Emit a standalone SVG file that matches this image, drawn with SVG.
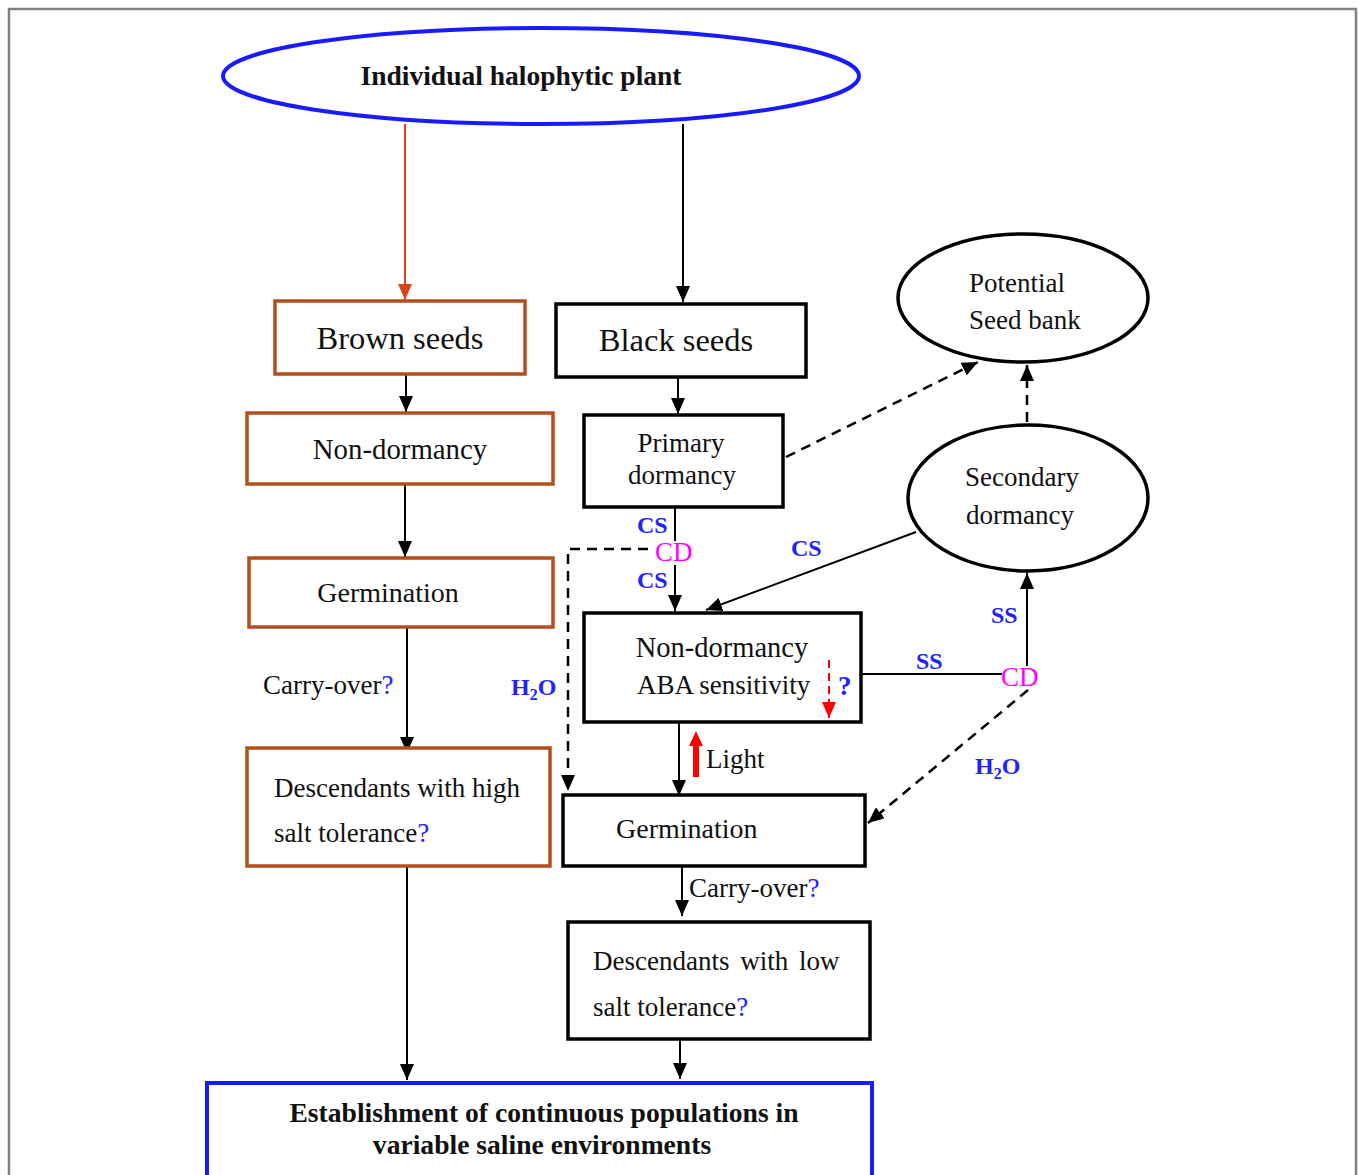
<svg xmlns="http://www.w3.org/2000/svg" width="1358" height="1175" viewBox="0 0 1358 1175">
<defs>
<style>
.t{font-family:"Liberation Serif","Times New Roman",serif;font-size:27px;fill:#111}
.b{font-weight:bold}
.c{text-anchor:middle}
.lbl{font-family:"Liberation Serif","Times New Roman",serif;font-size:24px;font-weight:bold;fill:#2222ff}
.cd{font-family:"Liberation Serif","Times New Roman",serif;font-size:27px;fill:#ff00ff}
.q{fill:#2222ff}
.brown{fill:#fff;stroke:#b24f1d;stroke-width:3.5}
.blk{fill:#fff;stroke:#000;stroke-width:3.5}
.ell{fill:#fff;stroke:#000;stroke-width:3.5}
.ln{fill:none;stroke:#000;stroke-width:2}
.dash{fill:none;stroke:#000;stroke-width:2.5;stroke-dasharray:10 7}
</style>
<marker id="ah" markerUnits="userSpaceOnUse" markerWidth="16" markerHeight="14" refX="16" refY="7" orient="auto"><path d="M0,0 L16,7 L0,14 z" fill="#000"/></marker>
<marker id="ahr" markerUnits="userSpaceOnUse" markerWidth="16" markerHeight="14" refX="16" refY="7" orient="auto"><path d="M0,0 L16,7 L0,14 z" fill="#d8431a"/></marker>
<marker id="ahred" markerUnits="userSpaceOnUse" markerWidth="16" markerHeight="14" refX="16" refY="7" orient="auto"><path d="M0,0 L16,7 L0,14 z" fill="#ff0000"/></marker>
</defs>
<rect x="9" y="9" width="1347" height="1190" fill="#fff" stroke="#808080" stroke-width="2.5"/>

<g id="connectors">
<line x1="405" y1="124" x2="405" y2="300" stroke="#d8431a" stroke-width="2" marker-end="url(#ahr)"/>
<line class="ln" x1="683" y1="124" x2="683" y2="302" marker-end="url(#ah)"/>
<line class="ln" x1="406" y1="375" x2="406" y2="412" marker-end="url(#ah)"/>
<line class="ln" x1="678" y1="378" x2="678" y2="414" marker-end="url(#ah)"/>
<line class="ln" x1="405" y1="485" x2="405" y2="557" marker-end="url(#ah)"/>
<line class="ln" x1="407" y1="628" x2="407" y2="753" marker-end="url(#ah)"/>
<line class="ln" x1="407" y1="867" x2="407" y2="1080" marker-end="url(#ah)"/>
<line class="dash" x1="786" y1="457" x2="978" y2="362" marker-end="url(#ah)"/>
<line class="dash" x1="1027" y1="422" x2="1027" y2="365" marker-end="url(#ah)"/>
<line class="ln" x1="675" y1="508" x2="675" y2="541"/>
<line class="ln" x1="675" y1="565" x2="675" y2="611" marker-end="url(#ah)"/>
<polyline class="dash" points="648,549 568,549 568,791" marker-end="url(#ah)"/>
<line class="ln" x1="916" y1="532" x2="706" y2="610" marker-end="url(#ah)"/>
<line class="ln" x1="862" y1="674" x2="1002" y2="674"/>
<line class="ln" x1="1027" y1="666" x2="1027" y2="573" marker-end="url(#ah)"/>
<line class="dash" x1="1028" y1="690" x2="868" y2="823" marker-end="url(#ah)"/>
<line class="ln" x1="679" y1="723" x2="679" y2="796" marker-end="url(#ah)"/>
<line class="ln" x1="682" y1="867" x2="682" y2="916" marker-end="url(#ah)"/>
<line class="ln" x1="680" y1="1040" x2="680" y2="1079" marker-end="url(#ah)"/>
<path d="M693,777 L693,746 L689,746 L696,731 L703,746 L699,746 L699,777 z" fill="#ff0000"/>
</g>

<g id="labels">
<text class="lbl" x="637" y="533">CS</text>
<text class="cd" x="655" y="561">CD</text>
<text class="lbl" x="637" y="588">CS</text>
<text class="lbl" x="791" y="556">CS</text>
<text class="lbl" x="916" y="669">SS</text>
<text class="cd" x="1001" y="686">CD</text>
<text class="lbl" x="991" y="623">SS</text>
<text class="lbl" x="511" y="695">H<tspan style="font-size:16px" dy="5">2</tspan><tspan dy="-5">O</tspan></text>
<text class="lbl" x="975" y="774">H<tspan style="font-size:16px" dy="5">2</tspan><tspan dy="-5">O</tspan></text>
<text class="t" x="706" y="768">Light</text>
<text class="t" x="263" y="694">Carry-over<tspan class="q">?</tspan></text>
<text class="t" x="689" y="897">Carry-over<tspan class="q">?</tspan></text>
</g>

<g id="n-plant">
<ellipse cx="541" cy="76" rx="318" ry="48" fill="#fff" stroke="#1a1aff" stroke-width="4"/>
<text class="t b c" x="521" y="85" style="font-size:27.5px">Individual halophytic plant</text>
</g>
<g id="n-brown">
<rect class="brown" x="275" y="301" width="250" height="73"/>
<text class="t c" x="400" y="349" style="font-size:32.5px">Brown seeds</text>
</g>
<g id="n-black">
<rect class="blk" x="556" y="304" width="250" height="73"/>
<text class="t c" x="676" y="351" style="font-size:32.5px">Black seeds</text>
</g>
<g id="n-nondorm-brown">
<rect class="brown" x="247" y="413" width="306" height="71"/>
<text class="t c" x="400" y="459" style="font-size:28.8px">Non-dormancy</text>
</g>
<g id="n-primary">
<rect class="blk" x="584" y="415" width="199" height="92"/>
<text class="t c" x="681" y="452">Primary</text>
<text class="t c" x="682" y="484">dormancy</text>
</g>
<g id="n-seedbank">
<ellipse class="ell" cx="1023" cy="298" rx="125" ry="64"/>
<text class="t" x="969" y="292">Potential</text>
<text class="t" x="969" y="329">Seed bank</text>
</g>
<g id="n-secondary">
<ellipse class="ell" cx="1028" cy="498" rx="120" ry="73"/>
<text class="t c" x="1022" y="486">Secondary</text>
<text class="t c" x="1020" y="524">dormancy</text>
</g>
<g id="n-germ-brown">
<rect class="brown" x="249" y="558" width="304" height="69"/>
<text class="t c" x="388" y="602" style="font-size:28px">Germination</text>
</g>
<g id="n-aba">
<rect class="blk" x="584" y="613" width="277" height="109"/>
<text class="t c" x="722" y="657" style="font-size:28.5px">Non-dormancy</text>
<text class="t" x="637" y="694">ABA sensitivity</text>
<line x1="829" y1="660" x2="829" y2="718" stroke="#ff0000" stroke-width="2" stroke-dasharray="8 5" marker-end="url(#ahred)"/>
<text class="lbl" x="838" y="695" style="font-size:27px">?</text>
</g>
<g id="n-high">
<rect class="brown" x="247" y="748" width="303" height="118"/>
<text class="t" x="274" y="797">Descendants with high</text>
<text class="t" x="274" y="842">salt tolerance<tspan class="q">?</tspan></text>
</g>
<g id="n-germ-black">
<rect class="blk" x="563" y="795" width="302" height="71"/>
<text class="t" x="616" y="838" style="font-size:28px">Germination</text>
</g>
<g id="n-low">
<rect class="blk" x="568" y="922" width="302" height="117"/>
<text class="t" x="593" y="970" word-spacing="4">Descendants with low</text>
<text class="t" x="593" y="1016">salt tolerance<tspan class="q">?</tspan></text>
</g>
<g id="n-establish">
<rect x="207" y="1083" width="665" height="110" fill="#fff" stroke="#1a1aff" stroke-width="4"/>
<text class="t b c" x="544" y="1122" style="font-size:27.6px">Establishment of continuous populations in</text>
<text class="t b c" x="542" y="1154" style="font-size:27.6px">variable saline environments</text>
</g>
</svg>
